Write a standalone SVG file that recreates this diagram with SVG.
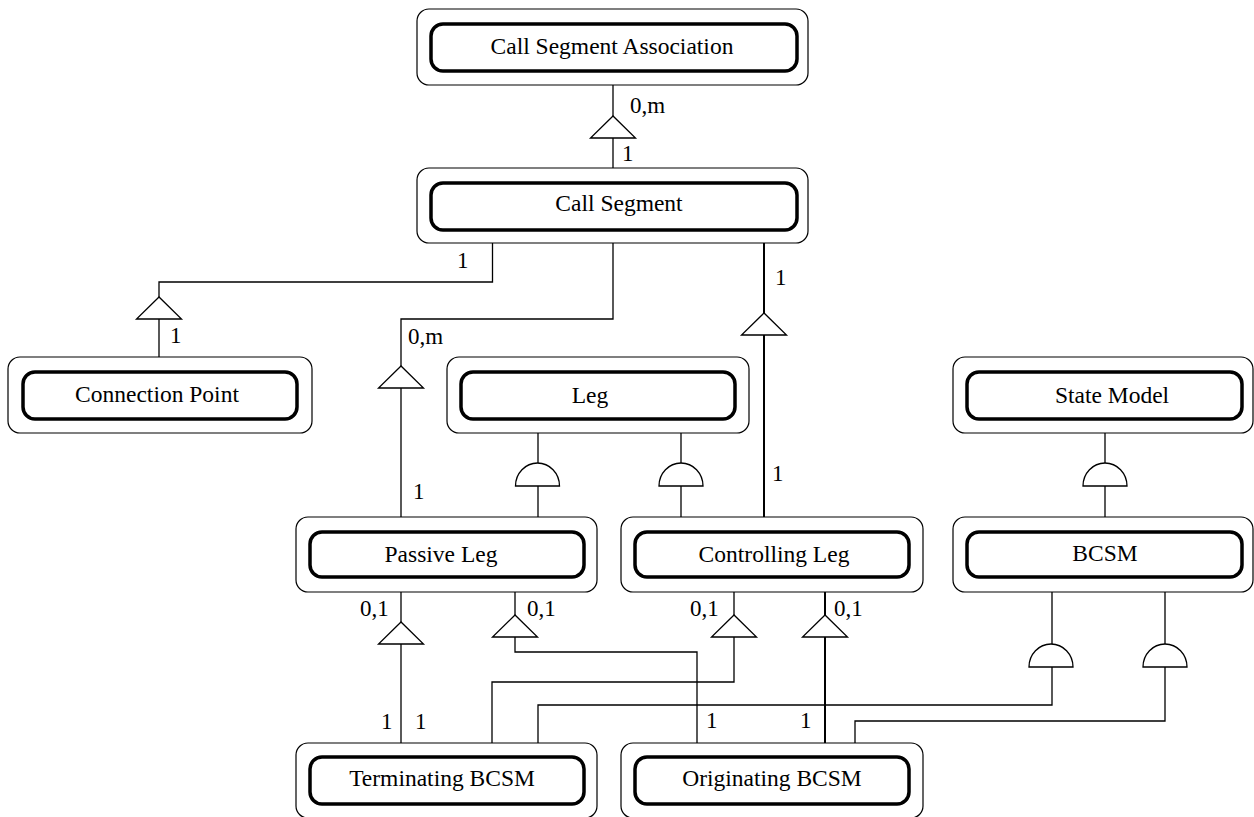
<svg xmlns="http://www.w3.org/2000/svg" width="1254" height="817" viewBox="0 0 1254 817">
<style>
.outer{fill:#fff;stroke:#000;stroke-width:1.2}
.inner{fill:#fff;stroke:#000;stroke-width:3.5}
text{font-family:'Liberation Serif','Times New Roman','DejaVu Serif',serif;fill:#000}
.t{font-size:23.5px;text-anchor:middle}
.lb{font-size:23px}
.c{fill:none;stroke:#000;stroke-width:1.3}
.ct{fill:none;stroke:#000;stroke-width:2}
.tri{fill:#fff;stroke:#000;stroke-width:1.3}
</style>
<defs>
<polygon id="tri" class="tri" points="0,0 -22.5,22 22.5,22"/>
<path id="semi" class="tri" d="M-22,23 A22 23 0 0 1 22,23 Z"/>
</defs>
<rect width="1254" height="817" fill="#fff"/>
<g id="connectors">
<path class="c" d="M613,85V168"/>
<path class="c" d="M492.5,243V282H159V357"/>
<path class="c" d="M613,243V319H401V517"/>
<path class="ct" d="M764,243V517"/>
<path class="c" d="M538,433V517"/>
<path class="c" d="M681,433V517"/>
<path class="c" d="M1105,433V517"/>
<path class="c" d="M1052,592V705H538V743"/>
<path class="c" d="M1165,592V721H855V743"/>
<path class="c" d="M401,592V743"/>
<path class="c" d="M515,592V652H697V743"/>
<path class="c" d="M734,592V682H492V743"/>
<path class="ct" d="M825,592V743"/>
<use href="#tri" x="613" y="116"/>
<use href="#tri" x="159" y="297"/>
<use href="#tri" x="401" y="366"/>
<use href="#tri" x="764" y="313"/>
<use href="#tri" x="401" y="622"/>
<use href="#tri" x="515" y="615"/>
<use href="#tri" x="734" y="615"/>
<use href="#tri" x="825" y="615"/>
<use href="#semi" x="537.5" y="463"/>
<use href="#semi" x="681" y="463"/>
<use href="#semi" x="1105" y="463"/>
<use href="#semi" x="1051" y="644"/>
<use href="#semi" x="1165" y="644"/>
<text class="lb" x="630" y="113" font-family="Liberation Serif, serif">0,m</text>
<text class="lb" x="622" y="161" font-family="Liberation Serif, serif">1</text>
<text class="lb" x="457" y="268" font-family="Liberation Serif, serif">1</text>
<text class="lb" x="170" y="343" font-family="Liberation Serif, serif">1</text>
<text class="lb" x="408" y="344" font-family="Liberation Serif, serif">0,m</text>
<text class="lb" x="413" y="499" font-family="Liberation Serif, serif">1</text>
<text class="lb" x="775" y="285" font-family="Liberation Serif, serif">1</text>
<text class="lb" x="772" y="481" font-family="Liberation Serif, serif">1</text>
<text class="lb" x="360" y="616" font-family="Liberation Serif, serif">0,1</text>
<text class="lb" x="527" y="616" font-family="Liberation Serif, serif">0,1</text>
<text class="lb" x="690" y="616" font-family="Liberation Serif, serif">0,1</text>
<text class="lb" x="834" y="616" font-family="Liberation Serif, serif">0,1</text>
<text class="lb" x="381" y="729" font-family="Liberation Serif, serif">1</text>
<text class="lb" x="415" y="729" font-family="Liberation Serif, serif">1</text>
<text class="lb" x="706" y="728" font-family="Liberation Serif, serif">1</text>
<text class="lb" x="800" y="728" font-family="Liberation Serif, serif">1</text>
</g>
<g id="call-segment-association">
<rect class="outer" x="417" y="9" width="391" height="76" rx="12"/>
<rect class="inner" x="431" y="24" width="366" height="47" rx="12"/>
<text class="t" x="612" y="54" font-family="Liberation Serif, serif">Call Segment Association</text>
</g>
<g id="call-segment">
<rect class="outer" x="417" y="168" width="391" height="75" rx="12"/>
<rect class="inner" x="431" y="183" width="366" height="47" rx="12"/>
<text class="t" x="619" y="211" font-family="Liberation Serif, serif">Call Segment</text>
</g>
<g id="connection-point">
<rect class="outer" x="8" y="357" width="304" height="76" rx="12"/>
<rect class="inner" x="23" y="372" width="274" height="47" rx="12"/>
<text class="t" x="157" y="402" font-family="Liberation Serif, serif">Connection Point</text>
</g>
<g id="leg">
<rect class="outer" x="447" y="357" width="302" height="76" rx="12"/>
<rect class="inner" x="461" y="372" width="274" height="47" rx="12"/>
<text class="t" x="590" y="403" font-family="Liberation Serif, serif">Leg</text>
</g>
<g id="state-model">
<rect class="outer" x="953" y="357" width="300" height="76" rx="12"/>
<rect class="inner" x="967" y="372" width="275" height="47" rx="12"/>
<text class="t" x="1112" y="403" font-family="Liberation Serif, serif">State Model</text>
</g>
<g id="passive-leg">
<rect class="outer" x="296" y="517" width="301" height="75" rx="12"/>
<rect class="inner" x="310" y="532" width="274" height="45" rx="12"/>
<text class="t" x="441" y="562" font-family="Liberation Serif, serif">Passive Leg</text>
</g>
<g id="controlling-leg">
<rect class="outer" x="621" y="517" width="302" height="75" rx="12"/>
<rect class="inner" x="635" y="532" width="274" height="45" rx="12"/>
<text class="t" x="774" y="562" font-family="Liberation Serif, serif">Controlling Leg</text>
</g>
<g id="bcsm">
<rect class="outer" x="953" y="517" width="300" height="75" rx="12"/>
<rect class="inner" x="967" y="532" width="275" height="45" rx="12"/>
<text class="t" x="1105" y="561" font-family="Liberation Serif, serif">BCSM</text>
</g>
<g id="terminating-bcsm">
<rect class="outer" x="296" y="743" width="301" height="75" rx="12"/>
<rect class="inner" x="310" y="757" width="274" height="47" rx="12"/>
<text class="t" x="442" y="786" font-family="Liberation Serif, serif">Terminating BCSM</text>
</g>
<g id="originating-bcsm">
<rect class="outer" x="621" y="743" width="302" height="75" rx="12"/>
<rect class="inner" x="635" y="757" width="274" height="47" rx="12"/>
<text class="t" x="772" y="786" font-family="Liberation Serif, serif">Originating BCSM</text>
</g>
</svg>
